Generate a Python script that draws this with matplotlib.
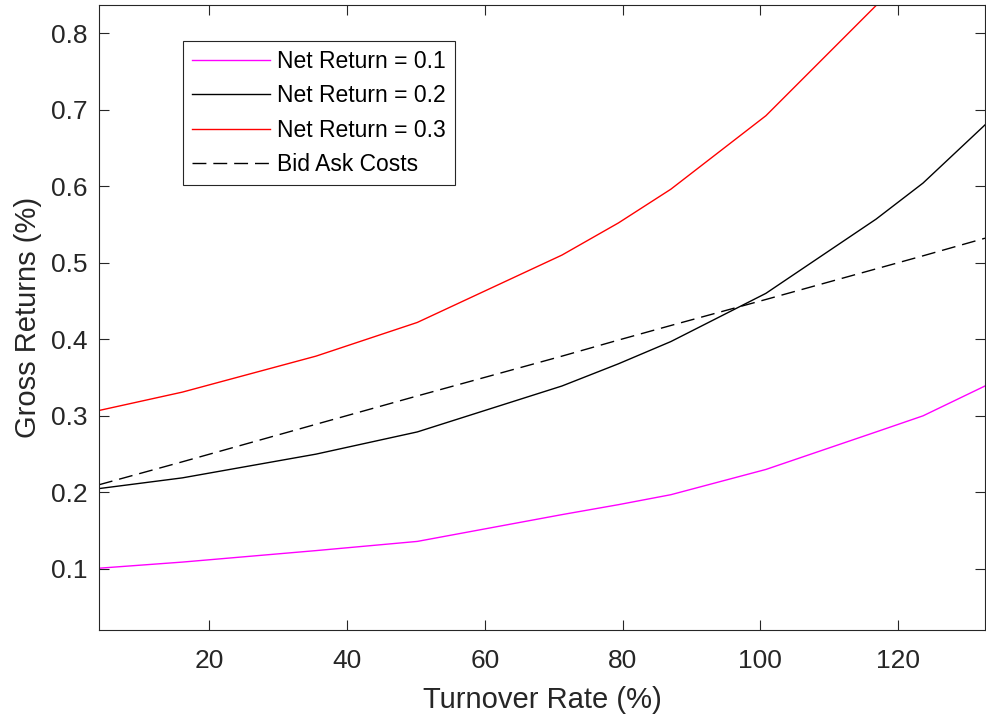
import numpy as np
import matplotlib
matplotlib.use('Agg')
import matplotlib.pyplot as plt

plt.rcParams['font.family'] = ['Liberation Sans', 'DejaVu Sans']

# turnover rate (%) and gross returns (%)
turnover = [4.0, 16.1, 35.5, 50.2, 71.2, 79.4, 87.0, 100.8, 116.8, 123.6, 132.6]
net_01 = [0.101, 0.109, 0.124, 0.136, 0.171, 0.184, 0.197, 0.230, 0.279, 0.300, 0.339]
net_02 = [0.205, 0.219, 0.250, 0.279, 0.339, 0.368, 0.397, 0.460, 0.557, 0.604, 0.680]
net_03 = [0.307, 0.331, 0.378, 0.422, 0.510, 0.552, 0.596, 0.692, 0.836, 0.906, 1.020]
bid_ask = [0.210, 0.240, 0.289, 0.326, 0.378, 0.399, 0.418, 0.452, 0.492, 0.509, 0.532]

labels = ['Net Return = 0.1', 'Net Return = 0.2', 'Net Return = 0.3', 'Bid Ask Costs']
xticks = [20, 40, 60, 80, 100, 120]
yticks = [0.1, 0.2, 0.3, 0.4, 0.5, 0.6, 0.7, 0.8]

grey = '#262626'

fig = plt.figure(figsize=(9.86, 7.19), dpi=100)
ax = fig.add_axes([99 / 986, 1 - 630 / 719, 886 / 986, 625 / 719])

ax.plot(turnover, net_01, color=(1, 0, 1), lw=1.0, label=labels[0])
ax.plot(turnover, net_02, color='k', lw=1.0, label=labels[1])
ax.plot(turnover, net_03, color=(1, 0, 0), lw=1.0, label=labels[2])
ax.plot(turnover, bid_ask, color='k', lw=1.0, dashes=(10, 5), label=labels[3])

ax.set_xlim(4.0, 132.6)
ax.set_ylim(0.0203, 0.8366)
ax.set_xticks(xticks)
ax.set_yticks(yticks)
ax.set_yticklabels([f'{v:.1f}' for v in yticks])

ax.tick_params(direction='in', length=7, width=0.8, top=True, right=True,
               labelsize=19, colors=grey)
ax.tick_params(axis='x', pad=14)
ax.tick_params(axis='y', pad=8)
for s in ax.spines.values():
    s.set_color(grey)
    s.set_linewidth(0.8)

ax.set_xlabel('Turnover Rate (%)', fontsize=21, color=grey, labelpad=9)
ax.set_ylabel('Gross Returns (%)', fontsize=21, color=grey, labelpad=7)

leg = ax.legend(loc='upper left', bbox_to_anchor=((182.7 - 99) / 886, (630 - 40.7) / 625),
                borderaxespad=0, fontsize=16.5, handlelength=3.4, handletextpad=0.3,
                labelspacing=0.5, borderpad=0.4, fancybox=False, framealpha=1)
leg.get_frame().set_edgecolor(grey)
leg.get_frame().set_linewidth(0.8)

fig.savefig('out.png', dpi=100)
